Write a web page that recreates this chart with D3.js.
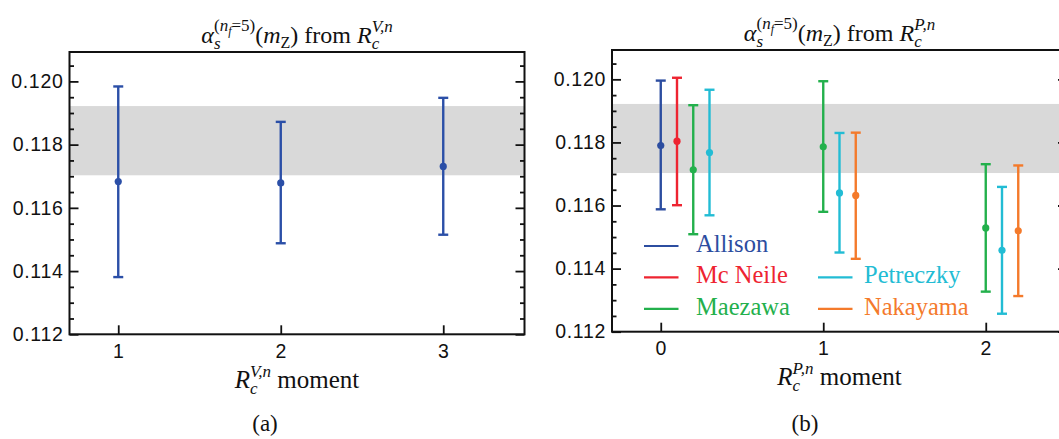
<!DOCTYPE html>
<html>
<head>
<meta charset="utf-8">
<script src="https://cdn.jsdelivr.net/npm/d3@7"></script>
<style>
    html, body { margin: 0; padding: 0; background: #fff; }
    svg text { white-space: pre; }
</style>
</head>
<body>
<div id="chart"></div>
<script>
// panel (a): R_c^{V,n} moments
const momentsA = [1, 2, 3];
const centralA = [0.11683, 0.11679, 0.11731];
const upperA = [0.11984, 0.11872, 0.11948];
const lowerA = [0.11381, 0.11488, 0.11515];

// panel (b): R_c^{P,n} moments, each point belongs to one group
const groupNames = ['Allison', 'Mc Neile', 'Maezawa', 'Petreczky', 'Nakayama'];
const groupOfB = ['Allison', 'Mc Neile', 'Maezawa', 'Petreczky', 'Maezawa', 'Petreczky', 'Nakayama', 'Maezawa', 'Petreczky', 'Nakayama'];
const momentsB = [0, 0.1, 0.2, 0.3, 1.0, 1.1, 1.2, 2.0, 2.1, 2.2];
const centralB = [0.11790, 0.11804, 0.11713, 0.11768, 0.11786, 0.11640, 0.11632, 0.11529, 0.11458, 0.11520];
const upperB = [0.11996, 0.12005, 0.11918, 0.11967, 0.11994, 0.11830, 0.11831, 0.11731, 0.11659, 0.11727];
const lowerB = [0.11588, 0.11601, 0.11509, 0.11569, 0.11580, 0.11451, 0.11431, 0.11327, 0.11257, 0.11313];

// world average band
const band = [0.11703, 0.11922];

// axes
const yMajorTicks = [0.112, 0.114, 0.116, 0.118, 0.120];
const yMinorTicks = [0.1125, 0.113, 0.1135, 0.1145, 0.115, 0.1155, 0.1165, 0.117, 0.1175, 0.1185, 0.119, 0.1195, 0.1205];
const xTicksA = [1, 2, 3];
const xTicksB = [0, 1, 2];

const W = 1059, H = 439;
const SERIF = '"Liberation Serif", "Times New Roman", serif';
const SANS = '"Liberation Sans", Arial, sans-serif';
const blueA = '#2b4fa7';
const groupColors = d3.scaleOrdinal()
    .domain(groupNames)
    .range(['#2c4da0', '#ee2431', '#23b04c', '#22bcd4', '#f47a2b']);

const svg = d3.select('#chart').append('svg')
    .attr('width', W)
    .attr('height', H)
    .style('display', 'block');
svg.append('rect').attr('width', W).attr('height', H).attr('fill', '#fff');

/**
 * draws a little math expression; items are pieces or stacks ([[sub...], [sup...]])
 */
function mathLabel(parent, cx, baseline, items, size, color) {
    const g = parent.append('g');
    let pen = 0;
    const put = p => {
        const t = g.append('text')
            .attr('x', pen)
            .attr('y', p.dy || 0)
            .style('font-family', SERIF)
            .style('font-size', (p.s || size) + 'px')
            .style('font-style', p.it ? 'italic' : 'normal')
            .attr('fill', color || '#111')
            .text(p.t);
        return t.node().getComputedTextLength();
    };
    items.forEach(item => {
        if (Array.isArray(item)) {
            const start = pen;
            let widest = 0;
            item.forEach(seq => {
                pen = start;
                seq.forEach(p => { pen += put(p); });
                widest = Math.max(widest, pen - start);
            });
            pen = start + widest;
        } else {
            pen += put(item);
        }
    });
    g.attr('transform', `translate(${cx - pen / 2},${baseline})`);
    return g;
}

function drawPanel(cfg) {
    const x = d3.scaleLinear().domain(cfg.xDomain).range([cfg.left, cfg.left + cfg.width]);
    const y = d3.scaleLinear().domain([0.112, 0.12093]).range([cfg.bottom, cfg.top]);
    const g = svg.append('g');
    const plotW = cfg.width, plotH = cfg.bottom - cfg.top;

    // band
    g.append('rect')
        .attr('x', cfg.left)
        .attr('width', plotW)
        .attr('y', y(band[1]))
        .attr('height', y(band[0]) - y(band[1]))
        .attr('fill', '#d9d9d9');

    // error bars
    const pts = g.append('g').selectAll('g')
        .data(cfg.points)
        .join('g')
        .attr('stroke', d => d.color)
        .attr('fill', d => d.color);
    pts.append('line')
        .attr('x1', d => x(d.m)).attr('x2', d => x(d.m))
        .attr('y1', d => y(d.hi)).attr('y2', d => y(d.lo))
        .attr('stroke-width', 2.4);
    pts.selectAll('line.cap')
        .data(d => [d.hi, d.lo].map(v => ({ m: d.m, v })))
        .join('line')
        .attr('class', 'cap')
        .attr('x1', d => x(d.m) - 5).attr('x2', d => x(d.m) + 5)
        .attr('y1', d => y(d.v)).attr('y2', d => y(d.v))
        .attr('stroke-width', 2.4);
    pts.append('circle')
        .attr('cx', d => x(d.m))
        .attr('cy', d => y(d.c))
        .attr('r', 3.6)
        .attr('stroke', 'none');

    // axes, ticks pointing inward
    const styleAxis = a => {
        a.select('.domain').remove();
        a.selectAll('line').attr('stroke', '#111').attr('stroke-width', 1.8);
        a.selectAll('text')
            .attr('fill', '#111')
            .style('font-family', SANS)
            .style('font-size', '19.5px')
            .style('letter-spacing', '0.7px');
    };
    g.append('g')
        .attr('transform', `translate(${cfg.left},0)`)
        .call(d3.axisLeft(y).tickValues(yMajorTicks).tickSize(-9).tickPadding(6).tickFormat(d3.format('.3f')))
        .call(styleAxis);
    g.append('g')
        .attr('transform', `translate(${cfg.left},0)`)
        .call(d3.axisLeft(y).tickValues(yMinorTicks).tickSize(-4.5).tickFormat(''))
        .call(styleAxis);
    g.append('g')
        .attr('transform', `translate(${cfg.left + plotW},0)`)
        .call(d3.axisRight(y).tickValues(yMajorTicks).tickSize(-9).tickFormat(''))
        .call(styleAxis);
    g.append('g')
        .attr('transform', `translate(${cfg.left + plotW},0)`)
        .call(d3.axisRight(y).tickValues(yMinorTicks).tickSize(-4.5).tickFormat(''))
        .call(styleAxis);
    g.append('g')
        .attr('transform', `translate(0,${cfg.bottom})`)
        .call(d3.axisBottom(x).tickValues(cfg.xTicks).tickSize(-9).tickPadding(9.5).tickFormat(d3.format('d')))
        .call(styleAxis);

    // frame
    g.append('rect')
        .attr('x', cfg.left).attr('y', cfg.top)
        .attr('width', plotW).attr('height', plotH)
        .attr('fill', 'none')
        .attr('stroke', '#111')
        .attr('stroke-width', 2);

    const mid = cfg.left + plotW / 2;
    // title
    mathLabel(svg, mid, cfg.top - 9, [
        { t: 'α', it: true },
        [[{ t: 's', it: true, s: 17, dy: 6 }],
         [{ t: '(', s: 17, dy: -12 }, { t: 'n', it: true, s: 17, dy: -12 }, { t: 'f', it: true, s: 12, dy: -8 }, { t: '=5)', s: 17, dy: -12 }]],
        { t: '(' }, { t: 'm', it: true }, { t: 'Z', s: 16, dy: 5 }, { t: ') from ' }, { t: 'R', it: true },
        [[{ t: 'c', it: true, s: 17, dy: 6 }], [{ t: cfg.sup, it: true, s: 17, dy: -11 }]]
    ], 24);
    // x label
    mathLabel(svg, mid, cfg.bottom + 53.5, [
        { t: 'R', it: true },
        [[{ t: 'c', it: true, s: 17, dy: 6 }], [{ t: cfg.sup, it: true, s: 17, dy: -11 }]],
        { t: ' moment' }
    ], 25);
    // sub caption
    svg.append('text')
        .attr('x', cfg.captionX)
        .attr('y', 431)
        .attr('text-anchor', 'middle')
        .style('font-family', SERIF)
        .style('font-size', '23px')
        .attr('fill', '#111')
        .text(cfg.caption);
    return { x, y, g };
}

drawPanel({
    left: 69.5, width: 455, top: 52, bottom: 334.3,
    xDomain: [0.7, 3.5], xTicks: xTicksA, sup: 'V,n', caption: '(a)', captionX: 265,
    points: momentsA.map((m, i) => ({ m, c: centralA[i], hi: upperA[i], lo: lowerA[i], color: blueA }))
});

const panelB = drawPanel({
    left: 612, width: 455, top: 50, bottom: 331.7,
    xDomain: [-0.3, 2.5], xTicks: xTicksB, sup: 'P,n', caption: '(b)', captionX: 805,
    points: momentsB.map((m, i) => ({ m, c: centralB[i], hi: upperB[i], lo: lowerB[i], color: groupColors(groupOfB[i]) }))
});

// legend inside panel (b): two columns
const legendSlots = { 'Allison': [0, 0], 'Mc Neile': [0, 1], 'Maezawa': [0, 2], 'Petreczky': [1, 1], 'Nakayama': [1, 2] };
const legend = panelB.g.append('g').attr('transform', 'translate(644,252)');
const entries = legend.selectAll('g')
    .data(groupNames)
    .join('g')
    .attr('transform', d => `translate(${legendSlots[d][0] * 174},${legendSlots[d][1] * 31.4})`);
entries.append('line')
    .attr('x1', 0).attr('x2', 34.5)
    .attr('y1', -6).attr('y2', -6)
    .attr('stroke', d => groupColors(d))
    .attr('stroke-width', 2.2);
entries.append('text')
    .attr('x', d => legendSlots[d][0] ? 46 : 52)
    .attr('y', 0)
    .style('font-family', SERIF)
    .style('font-size', '24.5px')
    .attr('fill', d => groupColors(d))
    .text(d => d);
</script>
</body>
</html>
